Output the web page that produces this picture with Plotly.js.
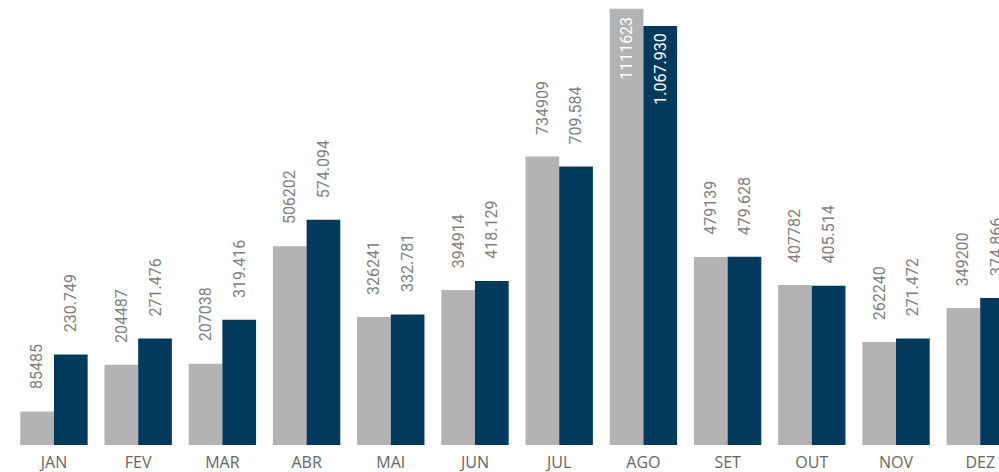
<!DOCTYPE html>
<html>
<head>
<meta charset="utf-8">
<script src="https://cdn.plot.ly/plotly-3.0.1.min.js"></script>
<style>html,body{margin:0;padding:0;background:#fff;overflow:hidden}#chart{width:999px;height:472px}</style>
</head>
<body>
<div id="chart"></div>
<script>
const months = ['JAN','FEV','MAR','ABR','MAI','JUN','JUL','AGO','SET','OUT','NOV','DEZ'];
const seriesA = [85485, 204487, 207038, 506202, 326241, 394914, 734909, 1111623, 479139, 407782, 262240, 349200];
const seriesB = [230749, 271476, 319416, 574094, 332781, 418129, 709584, 1067930, 479628, 405514, 271472, 374866];
const labelsA = ['85485','204487','207038','506202','326241','394914','734909','1111623','479139','407782','262240','349200'];
const labelsB = ['230.749','271.476','319.416','574.094','332.781','418.129','709.584','1.067.930','479.628','405.514','271.472','374.866'];
const insideIdx = 7;

const grayCol = '#b3b3b3', blueCol = '#003a5c', txtCol = '#7f7f7f';
const lblFont = {family: 'Roboto, "DejaVu Sans Condensed", sans-serif', size: 16, color: txtCol};

const traces = [
  {type:'bar', x: months, y: seriesA, marker:{color: grayCol}, hoverinfo:'none'},
  {type:'bar', x: months, y: seriesB, marker:{color: blueCol}, hoverinfo:'none'}
];

const annotations = [];
[[seriesA, labelsA, -0.2], [seriesB, labelsB, 0.2]].forEach(([vals, lbls, off]) => {
  vals.forEach((v, i) => {
    const inside = i === insideIdx;
    annotations.push({
      x: i + off, y: v, xref:'x', yref:'y',
      text: lbls[i], showarrow:false, textangle:-90,
      xanchor:'center', yanchor: inside ? 'top' : 'bottom',
      yshift: inside ? -6 : 20,
      font: Object.assign({}, lblFont, inside ? {color:'#ffffff'} : {})
    });
  });
});

const layout = {
  width: 999, height: 472,
  margin: {l:0, r:0, t:0, b:27, pad:0},
  paper_bgcolor:'#fff', plot_bgcolor:'#fff',
  barmode:'group', bargap:0.2, bargroupgap:0,
  showlegend:false,
  xaxis: {type:'category', range:[-0.641, 11.223], showgrid:false, zeroline:false, showline:false,
          ticks:'', tickfont:{family:'"Open Sans", "Noto Sans", sans-serif', size:16, color:'#666666'}, ticklabelstandoff:6},
  yaxis: {range:[0, 1134000], visible:false, showgrid:false, zeroline:false},
  annotations: annotations
};

Plotly.newPlot('chart', traces, layout, {staticPlot:true, displayModeBar:false});
</script>
</body>
</html>
